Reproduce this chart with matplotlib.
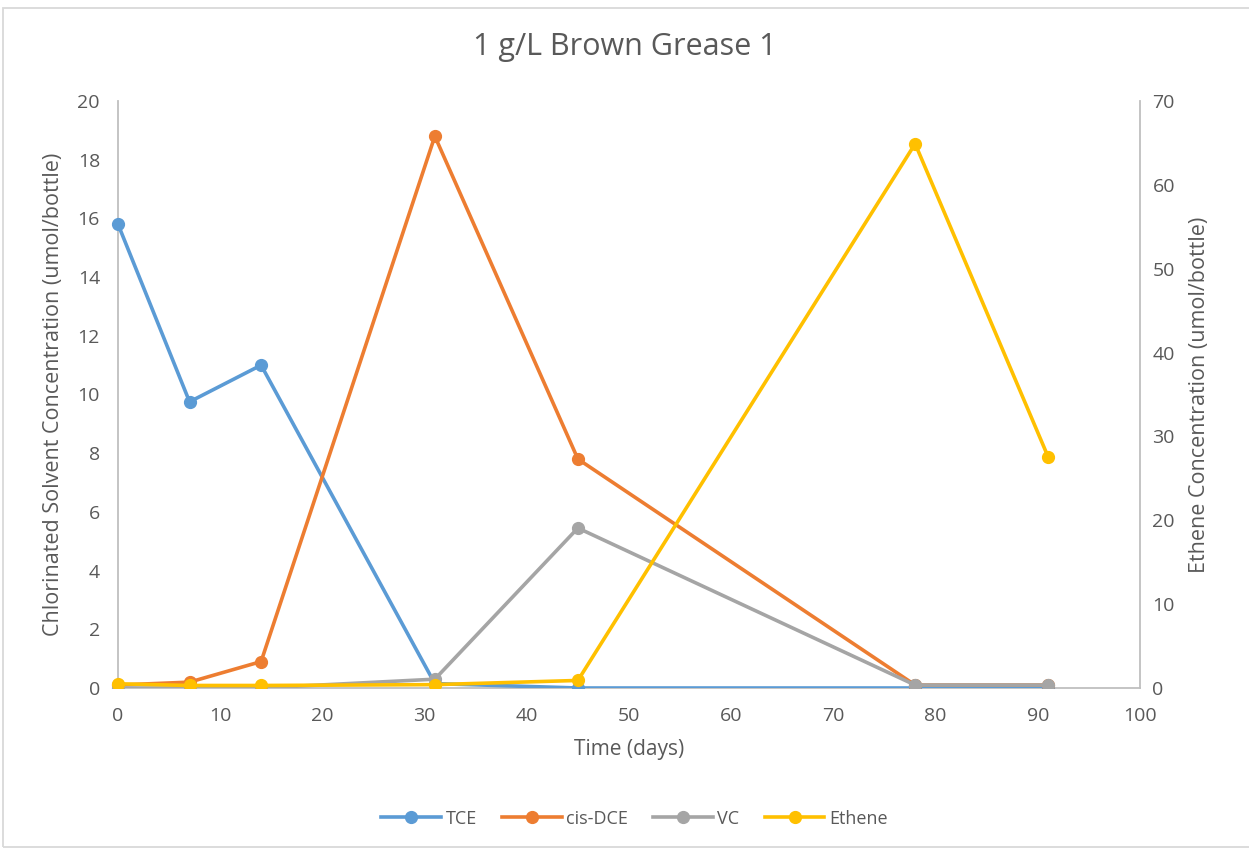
import matplotlib.pyplot as plt
from matplotlib.lines import Line2D
from matplotlib.patches import Rectangle

plt.rcParams['font.family'] = ['Open Sans', 'DejaVu Sans']

# sampling days and measured concentrations (umol/bottle)
days = [0, 7, 14, 31, 45, 78, 91]
tce = [15.8, 9.75, 11.0, 0.15, 0.0, 0.0, 0.0]
cis_dce = [0.1, 0.2, 0.9, 18.8, 7.8, 0.1, 0.1]
vc = [0.0, 0.0, 0.0, 0.3, 5.45, 0.1, 0.1]
ethene = [0.5, 0.3, 0.3, 0.4, 0.9, 64.9, 27.6]

colors = {'TCE': '#5B9BD5', 'cis-DCE': '#ED7D31', 'VC': '#A5A5A5', 'Ethene': '#FFC000'}
text_col = '#595959'
axis_col = '#BFBFBF'

fig = plt.figure(figsize=(12.49, 8.5), dpi=100)
ax = fig.add_axes([0.0945, 0.1906, 0.8182, 0.6906])
ax2 = ax.twinx()

style = dict(linewidth=2.6, marker='o', markersize=8.5, solid_capstyle='round', zorder=3)
lines = [
    ax.plot(days, tce, color=colors['TCE'], **style)[0],
    ax.plot(days, cis_dce, color=colors['cis-DCE'], **style)[0],
    ax.plot(days, vc, color=colors['VC'], **style)[0],
    ax2.plot(days, ethene, color=colors['Ethene'], **style)[0],
]
# markers may spill past the sides and top, but get cut at the x axis
for ln in lines:
    ln.set_clip_path(Rectangle((-0.05, 0), 1.1, 1.1, transform=ax.transAxes))

ax.set_xlim(0, 100)
ax.set_ylim(0, 20)
ax2.set_ylim(0, 70)
ax.set_xticks(range(0, 101, 10))
ax.set_yticks(range(0, 21, 2))
ax2.set_yticks(range(0, 71, 10))

for a in (ax, ax2):
    for s in a.spines.values():
        s.set_visible(False)
    a.tick_params(length=0, labelsize=14, colors=text_col)
ax.tick_params(axis='x', pad=14)
ax.tick_params(axis='y', pad=13)
ax2.tick_params(axis='y', pad=9)

for s in (ax.spines['left'], ax.spines['bottom'], ax2.spines['right']):
    s.set_visible(True)
    s.set_color(axis_col)
    s.set_linewidth(1.3)
    s.set_zorder(1)

ax.set_xlabel('Time (days)', fontsize=15, color=text_col, labelpad=10)
ax.set_ylabel('Chlorinated Solvent Concentration (umol/bottle)', fontsize=15.5, color=text_col, labelpad=10)
ax2.set_ylabel('Ethene Concentration (umol/bottle)', fontsize=15.5, color=text_col, labelpad=10)
fig.suptitle('1 g/L Brown Grease 1', fontsize=22, color=text_col, y=0.962)

handles = [Line2D([], [], color=c, linewidth=2.6, marker='o', markersize=8.5) for c in colors.values()]
fig.legend(handles, list(colors.keys()), loc='center', bbox_to_anchor=(0.508, 0.037), ncol=4,
           frameon=False, fontsize=13, handlelength=3.3, handletextpad=0.25, columnspacing=1.4,
           labelcolor=text_col)

# chart frame
fig.add_artist(Rectangle((3 / 1249, 0.003), 1.2, 1 - 8 / 850 - 0.003, transform=fig.transFigure,
                         fill=False, edgecolor='#D9D9D9', linewidth=1.3))

fig.savefig('out.png', dpi=100)
